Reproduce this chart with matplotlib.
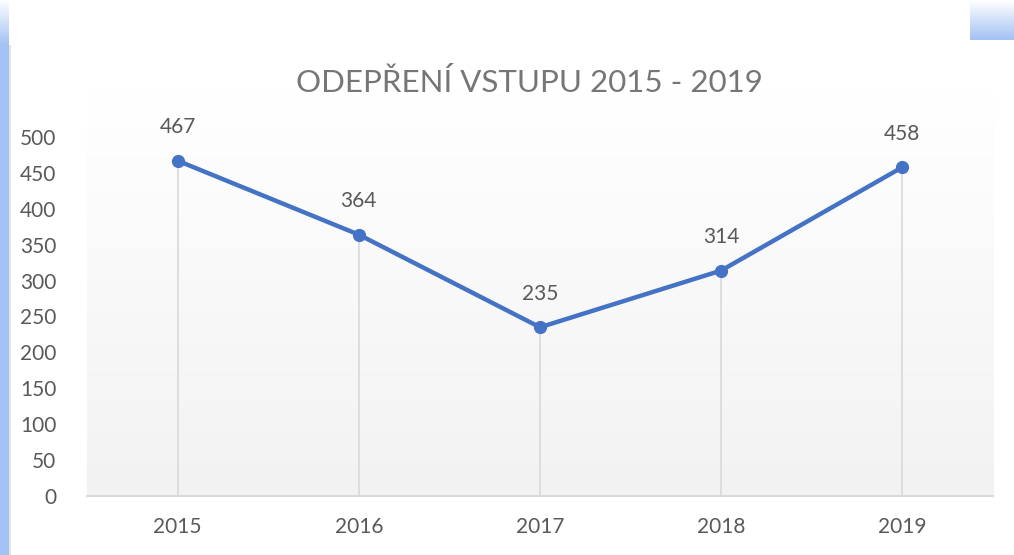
import numpy as np
import matplotlib
matplotlib.use("Agg")
import matplotlib.pyplot as plt
from matplotlib.patches import Rectangle

plt.rcParams["font.family"] = ["Lato", "DejaVu Sans"]

years = ["2015", "2016", "2017", "2018", "2019"]
values = [467, 364, 235, 314, 458]
yticks = [0, 50, 100, 150, 200, 250, 300, 350, 400, 450, 500]

LINE_C = "#4472C4"
TEXT_C = "#595959"
GRID_C = "#d9d9d9"

fig = plt.figure(figsize=(10.14, 5.55), dpi=100)
W, H = 1014, 555

# decorations around the chart (slide background pieces)
fig.patches.append(Rectangle((0, 0), 9 / W, 510 / H, transform=fig.transFigure,
                             color="#a4c2f4", lw=0))
fig.patches.append(Rectangle((9 / W, 0), 2 / W, 510 / H, transform=fig.transFigure,
                             color="#e3e3e3", lw=0))
top = np.linspace(0, 1, 40).reshape(-1, 1)
blues = matplotlib.colors.LinearSegmentedColormap.from_list("b", ["#ffffff", "#a4c2f4"])
gax = fig.add_axes([970 / W, 1 - 40 / H, 44 / W, 40 / H])
gax.imshow(top, cmap=blues, aspect="auto", origin="upper")
gax.axis("off")
lax = fig.add_axes([0, 1 - 45 / H, 9 / W, 45 / H])
lax.imshow(top, cmap=blues, aspect="auto", origin="upper")
lax.axis("off")

# main plot area: y=137 (500) to y=496 (0), x 87..993
ax = fig.add_axes([87 / W, 1 - 496 / H, 906 / W, 359 / H])
x = np.arange(len(years))

grad = np.linspace(0, 1, 256).reshape(-1, 1)
cmap = matplotlib.colors.LinearSegmentedColormap.from_list("g", ["#f2f2f2", "#ffffff"])
ax.imshow(grad, cmap=cmap, extent=[-0.5, len(years) - 0.5, 0, 560], aspect="auto",
          origin="lower", zorder=0, clip_on=False)
ax.set_xlim(-0.5, len(years) - 0.5)
ax.set_ylim(0, 500)

ax.vlines(x, 0, values, color=GRID_C, lw=1.2, zorder=1)
ax.plot(x, values, color=LINE_C, lw=3.2, marker="o", markersize=8.5, zorder=3,
        clip_on=False)
for xi, v in zip(x, values):
    ax.annotate(str(v), (xi, v), xytext=(0, 17), textcoords="offset points",
                ha="center", va="bottom", fontsize=15, color=TEXT_C,
                annotation_clip=False)

for s in ["top", "right", "left"]:
    ax.spines[s].set_visible(False)
ax.spines["bottom"].set_color(GRID_C)
ax.spines["bottom"].set_linewidth(1.5)
ax.set_xticks(x)
ax.set_xticklabels(years)
ax.set_yticks(yticks)
ax.tick_params(axis="both", length=0, labelsize=15, labelcolor=TEXT_C)
ax.tick_params(axis="x", pad=15)
ax.tick_params(axis="y", pad=22)

fig.text(529 / W, 1 - 83 / H, "ODEPŘENÍ VSTUPU 2015 - 2019", ha="center", va="center",
         fontsize=22.5, color="#767676")

fig.savefig("out.png", dpi=100)
